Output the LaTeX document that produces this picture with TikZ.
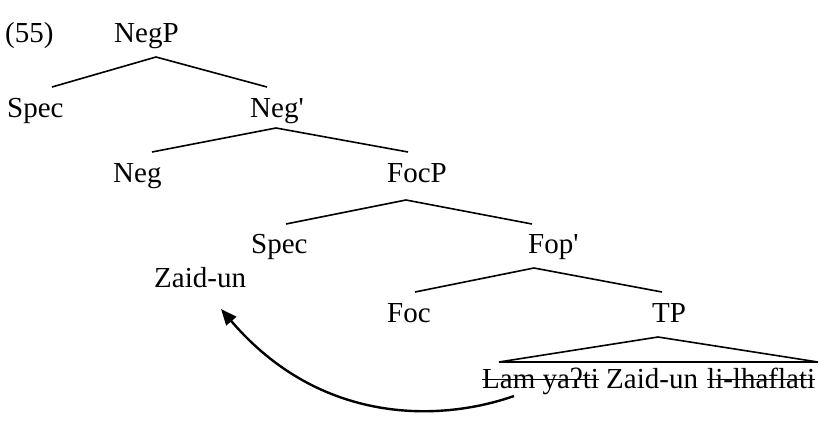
\documentclass[tikz,border=0pt]{standalone}
\usepackage{fontspec}
\setmainfont{Liberation Serif}
\usetikzlibrary{arrows.meta}
\begin{document}
\begin{tikzpicture}[x=1pt,y=-1pt,
  lbl/.style={anchor=base west,inner sep=0pt,font=\fontsize{29}{31}\selectfont},
  branch/.style={line width=1.6pt},
  strike/.style={line width=1.6pt},
  move/.style={line width=2.4pt,-{Triangle[length=16pt,width=13pt]}}]
\useasboundingbox (0,0) rectangle (827,440);
% labels
\node[lbl] (ex) at (5,42) {(55)};
\node[lbl] (negp) at (114,42) {NegP};
\node[lbl] (spec1) at (7,117) {Spec};
\node[lbl] (negbar) at (250,117) {Neg\textquotesingle};
\node[lbl] (neg) at (113,182) {Neg};
\node[lbl] (focp) at (387,182) {FocP};
\node[lbl] (spec2) at (251,253) {Spec};
\node[lbl] (fopbar) at (528,253) {Fop\textquotesingle};
\node[lbl] (zaid) at (154,287) {Zaid-un};
\node[lbl] (foc) at (387,322) {Foc};
\node[lbl] (tp) at (652,322) {TP};
\node[lbl] (w1) at (482,388) {Lam yaʔti};
\node[lbl] (w2) at (606,388) {Zaid-un};
\node[lbl] (w3) at (707,388) {li-lhaflati};
% branch points
\coordinate (a1) at (156,57); \coordinate (l1) at (52,87); \coordinate (r1) at (267,87);
\coordinate (a2) at (276,128); \coordinate (l2) at (152,152); \coordinate (r2) at (408,152);
\coordinate (a3) at (406,200); \coordinate (l3) at (286,224); \coordinate (r3) at (532,224);
\coordinate (a4) at (534,268); \coordinate (l4) at (415,292); \coordinate (r4) at (662,292);
\coordinate (a5) at (658,337); \coordinate (l5) at (499,362); \coordinate (r5) at (818,362);
\draw[branch] (l1) -- (a1) -- (r1);
\draw[branch] (l2) -- (a2) -- (r2);
\draw[branch] (l3) -- (a3) -- (r3);
\draw[branch] (l4) -- (a4) -- (r4);
\draw[branch] (l5) -- (a5) -- (r5) -- cycle;
% strike-through
\draw[strike] ([yshift=8.5pt]w1.base west) -- ([yshift=8.5pt]w1.base east);
\draw[strike] ([yshift=8.5pt]w3.base west) -- ([yshift=8.5pt]w3.base east);
% movement arrow
\coordinate (src) at (514,396);
\coordinate (dst) at (221,309);
\draw[move] (src) .. controls (440,422) and (320,425) .. (dst);
\end{tikzpicture}
\end{document}
